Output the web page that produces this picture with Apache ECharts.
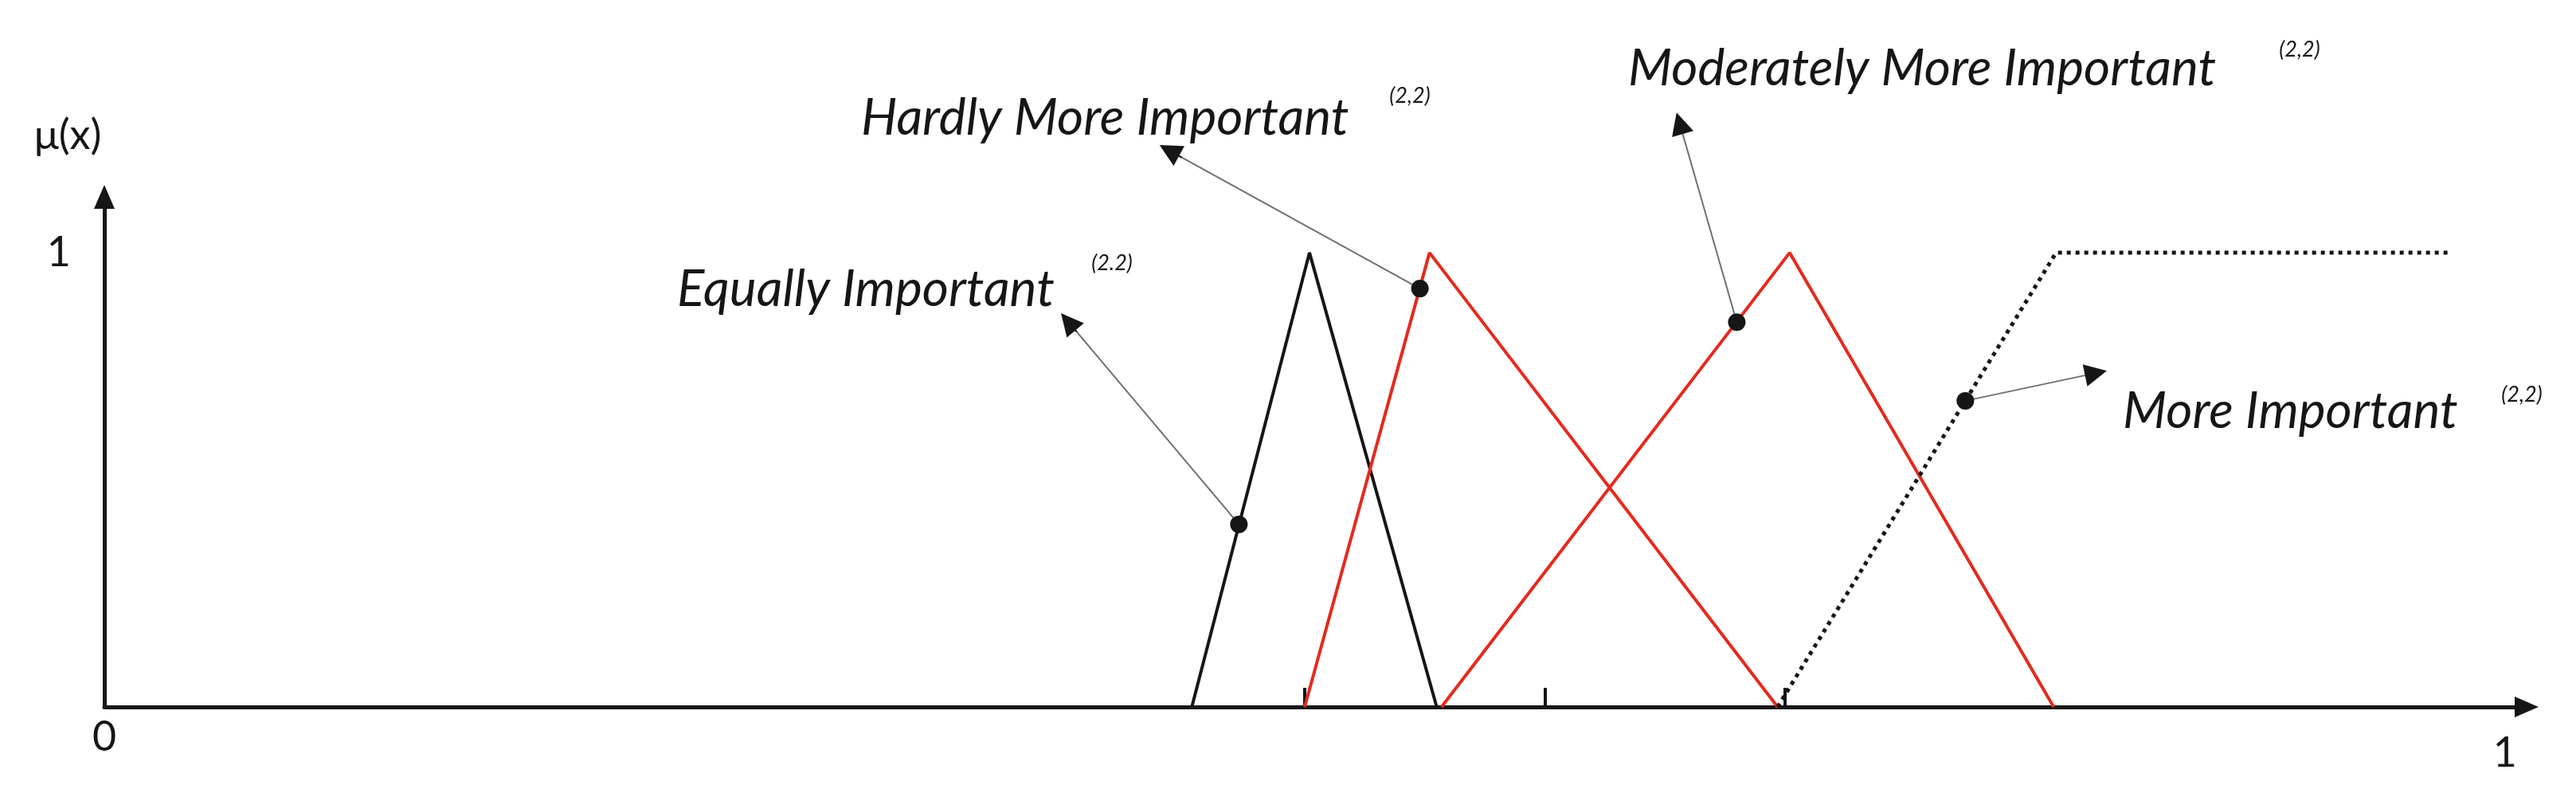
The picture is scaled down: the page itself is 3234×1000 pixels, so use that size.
<!DOCTYPE html>
<html>
<head>
<meta charset="utf-8">
<script src="https://cdn.jsdelivr.net/npm/echarts@6/dist/echarts.min.js"></script>
<style>html,body{margin:0;padding:0;background:#fff}#c{width:3234px;height:1000px}</style>
</head>
<body>
<div id="c"></div>
<script>
// ---- data ----
const xTickValues = [0.5, 0.6, 0.7];
const xLabelValues = [0, 1];
const yLabelValues = [1];
const equally = [[0.453, 0], [0.502, 1], [0.555, 0]];
const hardly = [[0.500, 0], [0.552, 1], [0.697, 0]];
const moderately = [[0.557, 0], [0.702, 1], [0.812, 0]];
const moreImp = [[0.697, 0], [0.813, 1], [0.977, 1]];
const annotPoints = [[0.4726, 0.402], [0.548, 0.921], [0.680, 0.847], [0.7752, 0.674]];
const arrowEnds = [[0.4015, 0.848], [0.4436, 1.225], [0.6562, 1.285], [0.8296, 0.735]];
const labelTexts = ['Equally Important', 'Hardly More Important', 'Moderately More Important', 'More Important'];
const supTexts = ['(2.2)', '(2,2)', '(2,2)', '(2,2)'];

const RED = '#e42a1d';
const INK = '#161616';

const chart = echarts.init(document.getElementById('c'), null, {renderer: 'canvas'});

const labelPos = [[850, 363], [1081, 148], [2044, 86], [2665, 516]];
const supPos = [[1396, 330], [1770, 120], [2887, 62], [3166, 495]];

const graphics = [];
labelTexts.forEach((t, i) => {
  graphics.push({type: 'text', x: labelPos[i][0], y: labelPos[i][1], z: 10,
    style: {text: t, font: 'italic 64px Lato', fill: INK, align: 'left', verticalAlign: 'middle'}});
  graphics.push({type: 'text', x: supPos[i][0], y: supPos[i][1], z: 10,
    style: {text: supTexts[i], font: 'italic 27px Lato', fill: INK, align: 'center', verticalAlign: 'middle'}});
});
graphics.push({type: 'text', x: 85, y: 170, z: 10,
  style: {text: 'μ(x)', font: '52px Lato', fill: INK, align: 'center', verticalAlign: 'middle'}});

function lineSeries(name, data, color, type) {
  return {
    name, type: 'line', data, symbol: 'none', z: 3, silent: true,
    lineStyle: {color, width: type ? 5 : 4, type: type || 'solid'}
  };
}

// short final piece of each arrow (same direction), drawn in black to carry the head
const headPieces = annotPoints.map((p, i) => {
  const e = arrowEnds[i];
  return {coords: [[e[0] - (e[0] - p[0]) * 0.05, e[1] - (e[1] - p[1]) * 0.05], e]};
});

const option = {
  animation: false,
  backgroundColor: '#fff',
  grid: {left: 131, top: 247, width: 3041, height: 640, containLabel: false},
  xAxis: {
    type: 'value', min: 0, max: 1.009,
    splitLine: {show: false},
    axisLine: {show: true, onZero: false, symbol: ['none', 'triangle'], symbolSize: [26, 30],
      lineStyle: {color: INK, width: 5}},
    axisTick: {show: true, inside: true, length: 24, customValues: xTickValues, lineStyle: {color: INK, width: 4}},
    axisLabel: {show: true, customValues: xLabelValues, margin: 12,
      formatter: v => v === 0 ? '{a|0}' : '{b|1}',
      rich: {a: {fontSize: 52, fontFamily: 'Lato', color: INK},
             b: {fontSize: 52, fontFamily: 'Lato', color: INK, padding: [20, 0, 0, 0]}}}
  },
  yAxis: {
    type: 'value', min: 0, max: 1.123,
    splitLine: {show: false},
    axisLine: {show: true, onZero: false, symbol: ['none', 'triangle'], symbolSize: [26, 30],
      lineStyle: {color: INK, width: 5}},
    axisTick: {show: false},
    axisLabel: {show: true, customValues: yLabelValues, margin: 42, fontSize: 52, fontFamily: 'Lato', color: INK}
  },
  series: [
    lineSeries('Equally Important', equally, INK),
    lineSeries('Hardly More Important', hardly, RED),
    lineSeries('Moderately More Important', moderately, RED),
    lineSeries('More Important', moreImp, INK, [5, 6]),
    {
      name: 'arrows', type: 'lines', coordinateSystem: 'cartesian2d', clip: false, silent: true, z: 4,
      symbol: 'none',
      lineStyle: {color: '#707070', width: 2, opacity: 1, curveness: 0},
      data: annotPoints.map((p, i) => ({coords: [p, arrowEnds[i]]}))
    },
    {
      name: 'arrowHeads', type: 'lines', coordinateSystem: 'cartesian2d', clip: false, silent: true, z: 4,
      symbol: ['none', 'triangle'], symbolSize: 28,
      lineStyle: {color: INK, width: 2, opacity: 1, curveness: 0},
      data: headPieces
    },
    {
      name: 'points', type: 'scatter', data: annotPoints, symbol: 'circle', symbolSize: 22, z: 5,
      itemStyle: {color: INK, opacity: 1}, silent: true
    }
  ],
  graphic: graphics
};
chart.setOption(option);
</script>
</body>
</html>
